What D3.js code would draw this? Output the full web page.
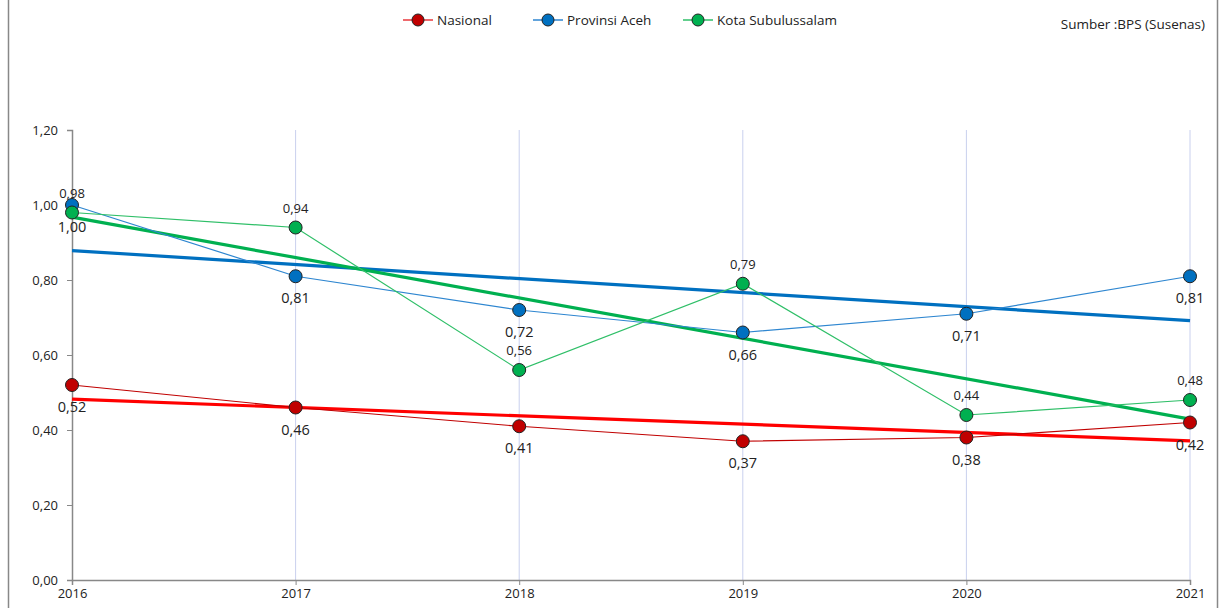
<!DOCTYPE html>
<html>
<head>
<meta charset="utf-8">
<title>Indeks Gini</title>
<script src="https://d3js.org/d3.v7.min.js"></script>
<style>
  body { margin: 0; background: #fff; }
  text { font-family: "Open Sans", sans-serif; fill: #222; }
</style>
</head>
<body>
<script>
const years = [2016, 2017, 2018, 2019, 2020, 2021]
const nasional = [0.52, 0.46, 0.41, 0.37, 0.38, 0.42]
const aceh = [1.00, 0.81, 0.72, 0.66, 0.71, 0.81]
const kota = [0.98, 0.94, 0.56, 0.79, 0.44, 0.48]
const yTicks = [0, 0.2, 0.4, 0.6, 0.8, 1.0, 1.2]

const series = [
  {name: "Nasional", values: nasional, line: "#c00000", legendLine: "#e8383d", dot: "#c00000", trend: "#ff0000", labelPos: "below", fs: 14.5},
  {name: "Provinsi Aceh", values: aceh, line: "#2e86d0", legendLine: "#2e86d0", dot: "#0070c0", trend: "#0070c0", labelPos: "below", fs: 14.5},
  {name: "Kota Subulussalam", values: kota, line: "#2fbf68", legendLine: "#2fbf68", dot: "#00b050", trend: "#00b050", labelPos: "above", fs: 13}
]

const W = 1222, H = 608
const svg = d3.select("body").append("svg").attr("width", W).attr("height", H)

const x = d3.scaleLinear().domain([2016, 2021]).range([72, 1190])
const y = d3.scaleLinear().domain([0, 1.2]).range([580, 130])
const fmt = v => d3.format(".2f")(v).replace(".", ",")

// frame borders
svg.append("line").attr("x1", 8.5).attr("x2", 8.5).attr("y1", 0).attr("y2", H).attr("stroke", "#888").attr("stroke-width", 1.5)
svg.append("line").attr("x1", 1217.5).attr("x2", 1217.5).attr("y1", 0).attr("y2", H).attr("stroke", "#888").attr("stroke-width", 1.5)

// vertical gridlines
svg.append("g").selectAll("line").data(years.slice(1)).join("line")
  .attr("x1", d => x(d)).attr("x2", d => x(d))
  .attr("y1", y(1.2)).attr("y2", y(0))
  .attr("stroke", "#c9d0ee").attr("stroke-width", 1)

// axes
const yAxis = d3.axisLeft(y).tickValues(yTicks).tickFormat(fmt).tickSize(5).tickPadding(9)
const gy = svg.append("g").attr("transform", `translate(${x(2016)},0)`).call(yAxis)
const xAxis = d3.axisBottom(x).tickValues(years).tickFormat(d3.format("d")).tickSize(5).tickPadding(4)
const gx = svg.append("g").attr("transform", `translate(0,${y(0)})`).call(xAxis)
;[gx, gy].forEach(g => {
  g.select(".domain").attr("stroke", "#888").attr("stroke-width", 1.5)
  g.selectAll(".tick line").attr("stroke", "#888")
  g.selectAll("text").attr("font-size", 13).attr("fill", "#222")
    .style("font-family", "'Open Sans', sans-serif")
})

// linear trend lines (least squares)
function trend(vals) {
  const xs = years.map((d, i) => i)
  const mx = d3.mean(xs), my = d3.mean(vals)
  const sxy = d3.sum(xs, (xi, i) => (xi - mx) * (vals[i] - my))
  const sxx = d3.sum(xs, xi => (xi - mx) ** 2)
  const b = sxy / sxx, a = my - b * mx
  return [[years[0], a], [years[years.length - 1], a + b * (years.length - 1)]]
}

const lineGen = d3.line().x(d => x(d[0])).y(d => y(d[1]))

series.forEach(s => {
  svg.append("path").datum(trend(s.values)).attr("d", lineGen)
    .attr("fill", "none").attr("stroke", s.trend).attr("stroke-width", 3.2)
})

series.forEach(s => {
  const pts = years.map((yr, i) => [yr, s.values[i]])
  svg.append("path").datum(pts).attr("d", lineGen)
    .attr("fill", "none").attr("stroke", s.line).attr("stroke-width", 1.2)
})

series.forEach(s => {
  const pts = years.map((yr, i) => [yr, s.values[i]])
  svg.append("g").selectAll("circle").data(pts).join("circle")
    .attr("cx", d => x(d[0])).attr("cy", d => y(d[1])).attr("r", 6.5)
    .attr("fill", s.dot).attr("stroke", "#222").attr("stroke-width", 1)
  svg.append("g").selectAll("text").data(pts).join("text")
    .attr("x", d => x(d[0])).attr("y", d => y(d[1]) + (s.labelPos === "below" ? 27 : -15))
    .attr("text-anchor", "middle").attr("font-size", s.fs)
    .text(d => fmt(d[1]))
})

// legend
const legendX = [403, 533, 683]
series.forEach((s, i) => {
  const g = svg.append("g").attr("transform", `translate(${legendX[i]},20)`)
  g.append("line").attr("x1", 0).attr("x2", 30).attr("stroke", s.legendLine).attr("stroke-width", 1.5)
  g.append("circle").attr("cx", 15).attr("r", 6).attr("fill", s.dot).attr("stroke", "#222")
  g.append("text").attr("x", 34).attr("y", 5).attr("font-size", 13.5).text(s.name)
})

svg.append("text").attr("x", 1205).attr("y", 29).attr("text-anchor", "end")
  .attr("font-size", 13.5).text("Sumber :BPS (Susenas)")
</script>
</body>
</html>
